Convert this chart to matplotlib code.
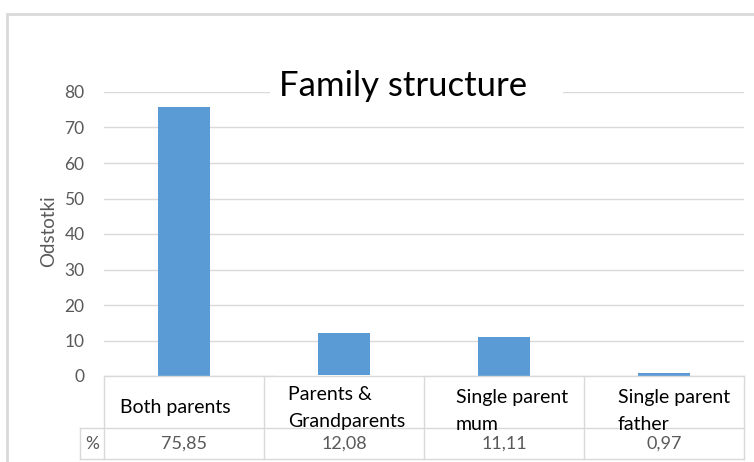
import numpy as np
import matplotlib
matplotlib.use("Agg")
import matplotlib.pyplot as plt
from matplotlib.patches import Rectangle

plt.rcParams['font.family'] = ['Lato', 'DejaVu Sans']

# data
categories = ["Both parents", "Parents &\nGrandparents", "Single parent\nmum", "Single parent\nfather"]
percent = [75.85, 12.08, 11.11, 0.97]
yticks = [0, 10, 20, 30, 40, 50, 60, 70, 80]
title = "Family structure"
ylabel = "Odstotki"
row_header = "%"

W, H = 754, 462
grey_line = "#d9d9d9"
grey_text = "#595959"
bar_color = "#5b9bd5"

fig = plt.figure(figsize=(W / 100, H / 100), dpi=100)

# main plot area (pixel box: x 104..744, y 92..376)
ax = fig.add_axes([104 / W, (H - 376) / H, 640 / W, 284 / H])
x = np.arange(len(categories))
ax.bar(x, percent, width=0.325, color=bar_color, zorder=2)
ax.set_xlim(-0.5, len(categories) - 0.5)
ax.set_ylim(0, 80)
ax.set_yticks(yticks)
ax.set_yticklabels([str(t) for t in yticks], color=grey_text, fontsize=12.5)
ax.set_xticks([])
ax.tick_params(axis='y', length=0, pad=14)
ax.grid(axis='y', color=grey_line, linewidth=1)
ax.set_axisbelow(True)
for s in ax.spines.values():
    s.set_visible(False)
ax.set_ylabel(ylabel, color=grey_text, fontsize=13.5)
ax.yaxis.set_label_coords(-0.074, 0.51)

# overlay in pixel coords (y down) for border, data table and text boxes
ov = fig.add_axes([0, 0, 1, 1], zorder=5)
ov.set_xlim(0, W)
ov.set_ylim(H, 0)
ov.axis('off')

# chart border
ov.plot([7, 7, W + 5], [H + 5, 14, 14], color=grey_line, lw=2, solid_joinstyle='miter')

# column edges of the data table from the bar axis
fig.canvas.draw()
edges = [ax.transData.transform((i - 0.5, 0))[0] for i in range(len(categories) + 1)]
centers = [ax.transData.transform((i, 0))[0] for i in range(len(categories))]

top, mid, bot = 376, 428, 459
ov.plot([edges[0], edges[-1]], [top, top], color=grey_line, lw=1)
ov.plot([80, edges[-1]], [mid, mid], color=grey_line, lw=1)
ov.plot([80, edges[-1]], [bot, bot], color=grey_line, lw=1)
ov.plot([80, 80], [mid, bot], color=grey_line, lw=1)
for e in edges:
    ov.plot([e, e], [top, bot], color=grey_line, lw=1)

ov.text(92, 444, row_header, ha='center', va='center', color=grey_text, fontsize=12.5)
for c, v in zip(centers, percent):
    ov.text(c, 444, f"{v:.2f}".replace('.', ','), ha='center', va='center',
            color=grey_text, fontsize=13)

# white text boxes laid over the category cells
boxes = [(110, 268, 386, 423), (278, 428, 375, 435), (446, 588, 378, 438), (608, 760, 378, 438)]
for (x0, x1, y0, y1), lab in zip(boxes, categories):
    ov.add_patch(Rectangle((x0, y0), x1 - x0, y1 - y0, facecolor='white', edgecolor='none'))
    ov.text(x0 + 10, (y0 + y1) / 2 + 3, lab, ha='left', va='center', color='black',
            fontsize=14, linespacing=1.65)

# title box
ov.add_patch(Rectangle((270, 66), 293, 40, facecolor='white', edgecolor='none'))
ov.text(403, 86, title, ha='center', va='center', color='black', fontsize=25)

fig.savefig("out.png", dpi=100)
